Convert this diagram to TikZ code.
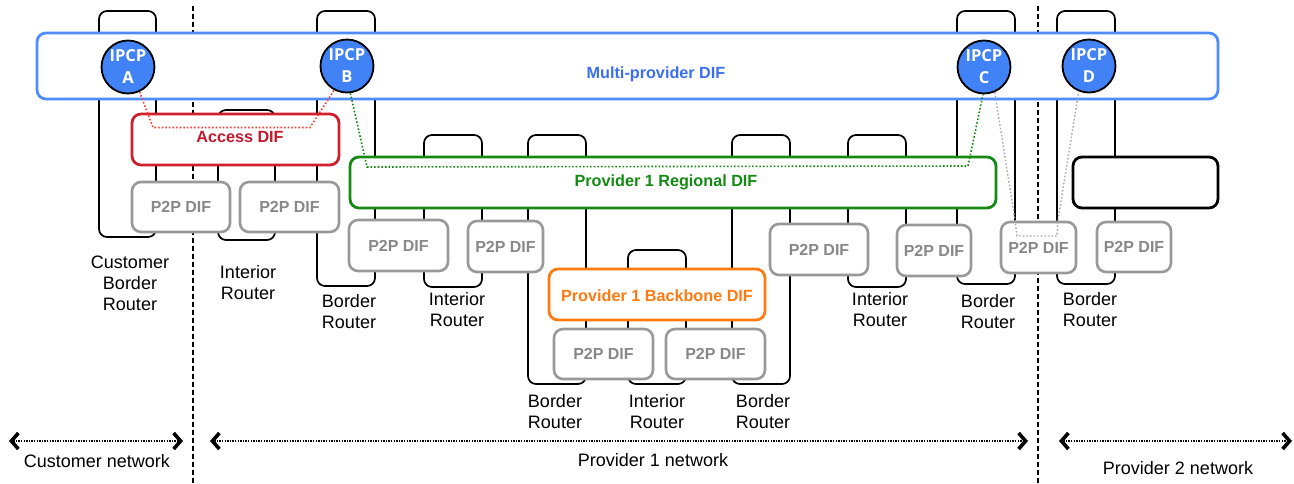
\documentclass[tikz,border=0pt]{standalone}
\usepackage{fontspec}
\setmainfont{Liberation Sans}
\newfontfamily\ipcpfont{Open Sans}
\usetikzlibrary{arrows.meta}
\definecolor{mpblue}{HTML}{4F8CFF}
\definecolor{mptext}{HTML}{3A6EF2}
\definecolor{ipcpblue}{HTML}{4282F7}
\definecolor{accred}{HTML}{D0202E}
\definecolor{acctext}{HTML}{C4182F}
\definecolor{dotred}{HTML}{FF3B2F}
\definecolor{reggreen}{HTML}{148A14}
\definecolor{bbor}{HTML}{FF7A10}
\definecolor{p2pgray}{HTML}{999999}
\definecolor{p2ptext}{HTML}{888888}
\definecolor{dotgray}{HTML}{A8A8A8}
\tikzset{
 router/.style={draw=black, line width=1.7pt, rounded corners=8pt, inner sep=0pt},
 dif/.style={fill=white, line width=2.8pt, rounded corners=9pt, inner sep=0pt},
 p2p/.style={draw=p2pgray, fill=white, line width=2.6pt, rounded corners=9pt, inner sep=0pt, text=p2ptext, font=\bfseries\fontsize{16}{18}\selectfont},
 ipcp/.style={circle, draw=black, line width=1.8pt, fill=ipcpblue, minimum size=53pt, inner sep=0pt, text=white, font=\ipcpfont\bfseries\fontsize{16.5}{22}\selectfont, align=center},
 lbl/.style={align=center, font=\fontsize{18}{21}\selectfont, inner sep=0pt},
 diflbl/.style={font=\bfseries\fontsize{16.2}{19}\selectfont, inner sep=0pt},
 sepline/.style={line width=1.5pt, dash pattern=on 5pt off 3pt},
 conn/.style={line width=1.6pt, dotted},
 netarrow/.style={line width=1.4pt, dash pattern=on 1.4pt off 1.2pt, {Straight Barb[length=7pt,width=16pt,line width=3.6pt]}-{Straight Barb[length=7pt,width=16pt,line width=3.6pt]}},
}
\begin{document}
\begin{tikzpicture}[x=1pt,y=-1pt]
\useasboundingbox (0,0) rectangle (1294,483);
% separators
\draw[sepline] (193,6) -- (193,483);
\draw[sepline] (1038,6) -- (1038,483);
% routers
\node[router, minimum width=57pt, minimum height=226pt] (r1) at (127.5,124) {};
\node[router, minimum width=57pt, minimum height=130pt] (r2) at (246.5,175) {};
\node[router, minimum width=58pt, minimum height=275pt] (r3) at (346,148.5) {};
\node[router, minimum width=58pt, minimum height=152pt] (r4) at (453,211) {};
\node[router, minimum width=58pt, minimum height=249pt] (r5) at (557,259.5) {};
\node[router, minimum width=58pt, minimum height=134pt] (r6) at (657,317) {};
\node[router, minimum width=58pt, minimum height=249pt] (r7) at (761,259.5) {};
\node[router, minimum width=58pt, minimum height=152pt] (r8) at (877,211) {};
\node[router, minimum width=58pt, minimum height=273pt] (r9) at (986,147.5) {};
\node[router, minimum width=58pt, minimum height=273pt] (r10) at (1086,147.5) {};
% DIFs
\node[dif, draw=mpblue, minimum width=1181pt, minimum height=66pt] (multi) at (627.5,66) {};
\node[dif, draw=accred, minimum width=207pt, minimum height=51pt] (access) at (235.5,139.5) {};
\node[dif, draw=reggreen, minimum width=646pt, minimum height=51pt] (regional) at (673,182.5) {};
\node[dif, draw=bbor, minimum width=216pt, minimum height=51pt] (backbone) at (657,294.5) {};
\node[dif, draw=black, minimum width=145pt, minimum height=51pt] (p2reg) at (1145.5,182.5) {};
% P2P DIFs
\node[p2p, minimum width=98pt, minimum height=50pt] (p1) at (181,207) {P2P DIF};
\node[p2p, minimum width=99pt, minimum height=50pt] (p2) at (289.5,207) {P2P DIF};
\node[p2p, minimum width=99pt, minimum height=51pt] (p3) at (398.5,245.5) {P2P DIF};
\node[p2p, minimum width=75pt, minimum height=51pt] (p4) at (505.5,246.5) {P2P DIF};
\node[p2p, minimum width=99pt, minimum height=50pt] (p5) at (603.5,354) {P2P DIF};
\node[p2p, minimum width=99pt, minimum height=50pt] (p6) at (715.5,354) {P2P DIF};
\node[p2p, minimum width=98pt, minimum height=51pt] (p7) at (819,249.5) {P2P DIF};
\node[p2p, minimum width=74pt, minimum height=51pt] (p8) at (934,250.5) {P2P DIF};
\node[p2p, minimum width=75pt, minimum height=51pt] (p9) at (1038.5,247.5) {P2P DIF};
\node[p2p, minimum width=74pt, minimum height=50pt] (p10) at (1134,247) {P2P DIF};
% DIF labels
\node[diflbl, text=mptext] (multilbl) at (656,74) {Multi-provider DIF};
\node[diflbl, text=acctext] (accesslbl) at (240,137) {Access DIF};
\node[diflbl, text=reggreen] (regionallbl) at (666,182) {Provider 1 Regional DIF};
\node[diflbl, text=bbor] (backbonelbl) at (657,296) {Provider 1 Backbone DIF};
% IPCPs
\node[ipcp] (A) at (128,67) {IPCP\\A};
\node[ipcp] (B) at (347,66) {IPCP\\B};
\node[ipcp] (C) at (984,67) {IPCP\\C};
\node[ipcp] (D) at (1089,66) {IPCP\\D};
% dotted connectors
\draw[conn, dotred] (A.-65) -- (153,127.5) -- (310,127.5) -- (B.-118);
\draw[conn, reggreen] (B.-83) -- (367,167) -- (968,166) -- (C.-92);
\draw[conn, dotgray, line width=1.4pt] (C.-67) -- (1015,220) -- (1017,236) -- (1057,236) -- (1058,220) -- (D.-112);
% router labels
\node[lbl] (l1) at (130,283) {Customer\\Border\\Router};
\node[lbl] (l2) at (248,282.5) {Interior\\Router};
\node[lbl] (l3) at (349,312) {Border\\Router};
\node[lbl] (l4) at (457,310) {Interior\\Router};
\node[lbl] (l5) at (555,411.5) {Border\\Router};
\node[lbl] (l6) at (657,412) {Interior\\Router};
\node[lbl] (l7) at (763,412) {Border\\Router};
\node[lbl] (l8) at (880,309.5) {Interior\\Router};
\node[lbl] (l9) at (988,311.5) {Border\\Router};
\node[lbl] (l10) at (1090,309.5) {Border\\Router};
% network spans
\coordinate (c1) at (9,441);
\coordinate (c2) at (183,441);
\coordinate (c3) at (210,441);
\coordinate (c4) at (1028,441);
\coordinate (c5) at (1059,441);
\coordinate (c6) at (1292,441);
\draw[netarrow] (c1) -- (c2);
\draw[netarrow] (c3) -- (c4);
\draw[netarrow] (c5) -- (c6);
\node[lbl] (n1) at (97,461) {Customer network};
\node[lbl] (n2) at (653,460) {Provider 1 network};
\node[lbl] (n3) at (1178,468) {Provider 2 network};
\end{tikzpicture}
\end{document}
